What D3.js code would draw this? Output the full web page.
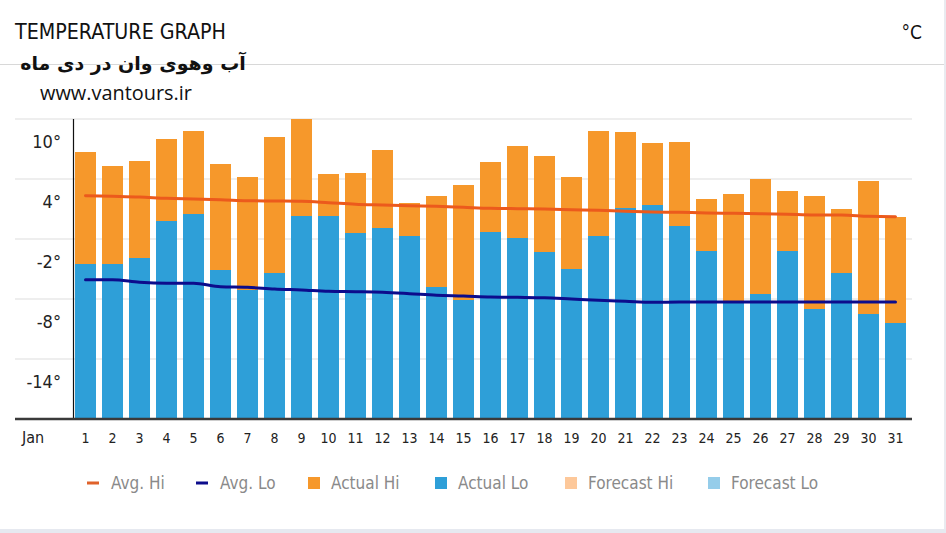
<!DOCTYPE html>
<html>
<head>
<meta charset="utf-8">
<script src="https://cdn.jsdelivr.net/npm/d3@7"></script>
<style>
  html, body { margin: 0; padding: 0; background: #fff; }
  svg { display: block; }
  .cond { font-family: 'DejaVu Sans', sans-serif; font-stretch: condensed; }
</style>
</head>
<body>
<svg id="chart" width="946" height="533"></svg>
<script>
// ---- data ----
const days = d3.range(1, 32).map(String);
const actualHi = [6.7, 5.3, 5.8, 8.0, 8.8, 5.5, 4.2, 8.2, 10.0, 4.5, 4.6, 6.9, 1.6, 2.3, 3.4, 5.7,
                  7.3, 6.3, 4.2, 8.8, 8.7, 7.6, 7.7, 2.0, 2.5, 4.0, 2.8, 2.3, 1.0, 3.8, 0.2];
const actualLo = [-4.5, -4.5, -3.9, -0.2, 0.5, -5.1, -7.1, -5.4, 0.3, 0.3, -1.4, -0.9, -1.7, -6.8, -8.1, -1.3,
                  -1.9, -3.3, -5.0, -1.7, 1.1, 1.4, -0.7, -3.2, -8.3, -7.5, -3.2, -9.0, -5.4, -9.5, -10.4];
const avgHi = [2.33, 2.27, 2.2, 2.07, 2.0, 1.93, 1.83, 1.8, 1.77, 1.63, 1.47, 1.4, 1.33, 1.27, 1.17, 1.07,
               1.03, 1.0, 0.93, 0.87, 0.77, 0.7, 0.67, 0.6, 0.57, 0.53, 0.47, 0.4, 0.4, 0.27, 0.23];
const avgLo = [-6.07, -6.07, -6.33, -6.43, -6.43, -6.77, -6.83, -7.0, -7.1, -7.23, -7.27, -7.33, -7.47, -7.63, -7.7, -7.8,
               -7.83, -7.87, -8.0, -8.13, -8.23, -8.33, -8.3, -8.3, -8.3, -8.3, -8.3, -8.3, -8.3, -8.3, -8.3];
const yTicks = [10, 4, -2, -8, -14];
const monthLabel = "Jan";
const legendLabels = ["Avg. Hi", "Avg. Lo", "Actual Hi", "Actual Lo", "Forecast Hi", "Forecast Lo"];
const titleText = "TEMPERATURE GRAPH";
const subtitleText = "آب وهوی وان در دی ماه";
const siteText = "www.vantours.ir";
const unitText = "°C";

// ---- styles ----
const C = {
  hi: "#f6982b", lo: "#2e9fd8", avgHi: "#ec5a1c", avgLo: "#0c0c8c",
  fHi: "#fdc89a", fLo: "#95cdea", grid: "#e8e8e8", text: "#222", legend: "#8a8a8a"
};

const svg = d3.select("#chart");

// frame
svg.append("rect").attr("x", 944).attr("y", 0).attr("width", 2).attr("height", 533).attr("fill", "#e9ebf0");
svg.append("rect").attr("x", 0).attr("y", 529).attr("width", 946).attr("height", 4).attr("fill", "#e6e9f0");
svg.append("line").attr("x1", 0).attr("x2", 944).attr("y1", 64.5).attr("y2", 64.5)
  .attr("stroke", "#d8d8d8").attr("stroke-width", 1.2);

// header
svg.append("text").attr("class", "cond").attr("x", 15).attr("y", 39).text(titleText)
  .attr("font-size", 22).attr("fill", "#111")
  .attr("textLength", 211).attr("lengthAdjust", "spacingAndGlyphs");
svg.append("text").attr("class", "cond").attr("x", 922).attr("y", 39).attr("text-anchor", "end").text(unitText)
  .attr("font-size", 19).attr("fill", "#111");
svg.append("text").attr("x", 133).attr("y", 70).attr("text-anchor", "middle").text(subtitleText)
  .attr("font-family", "'DejaVu Sans', sans-serif").attr("font-weight", "bold").attr("font-size", 19)
  .attr("fill", "#111").attr("direction", "rtl");
svg.append("text").attr("x", 40).attr("y", 100).text(siteText)
  .attr("font-family", "'Open Sans', 'Noto Sans', sans-serif").attr("font-size", 20).attr("fill", "#111")
  .attr("textLength", 152).attr("lengthAdjust", "spacingAndGlyphs");

// scales
const x = d3.scaleBand().domain(days).range([75, 906]).paddingInner(0.222).paddingOuter(0);
const y = d3.scaleLinear().domain([-20, 10]).range([419, 119]);

// grid
svg.append("g").selectAll("line").data(yTicks).join("line")
  .attr("x1", 15).attr("x2", 912).attr("y1", d => y(d)).attr("y2", d => y(d))
  .attr("stroke", C.grid).attr("stroke-width", 1.5);

// y labels
svg.append("g").selectAll("text").data(yTicks).join("text")
  .attr("class", "cond")
  .attr("x", 61).attr("y", d => y(d) + 29).attr("text-anchor", "end")
  .attr("font-size", 18).attr("fill", C.text)
  .text(d => d + "°");

// bars
const data = days.map((d, i) => ({ day: d, hi: actualHi[i], lo: actualLo[i] }));
svg.append("g").selectAll("rect").data(data).join("rect")
  .attr("x", d => x(d.day)).attr("width", x.bandwidth())
  .attr("y", d => y(d.hi)).attr("height", d => y(d.lo) - y(d.hi))
  .attr("fill", C.hi);
svg.append("g").selectAll("rect").data(data).join("rect")
  .attr("x", d => x(d.day)).attr("width", x.bandwidth())
  .attr("y", d => y(d.lo)).attr("height", d => y(-20) - y(d.lo))
  .attr("fill", C.lo);

// axis lines
svg.append("line").attr("x1", 73.5).attr("x2", 73.5).attr("y1", 119).attr("y2", 419)
  .attr("stroke", "#111").attr("stroke-width", 1.2);
svg.append("line").attr("x1", 15).attr("x2", 912).attr("y1", 419).attr("y2", 419)
  .attr("stroke", "#3a3a3a").attr("stroke-width", 2.5);

// average lines
const cx = d => x(d) + x.bandwidth() / 2;
const line = d3.line().x(d => cx(d[0])).y(d => y(d[1])).curve(d3.curveMonotoneX);
svg.append("path").attr("d", line(days.map((d, i) => [d, avgHi[i]])))
  .attr("fill", "none").attr("stroke", C.avgHi).attr("stroke-width", 3).attr("stroke-linecap", "round");
svg.append("path").attr("d", line(days.map((d, i) => [d, avgLo[i]])))
  .attr("fill", "none").attr("stroke", C.avgLo).attr("stroke-width", 3).attr("stroke-linecap", "round");

// x labels
svg.append("text").attr("class", "cond").attr("x", 22).attr("y", 443).text(monthLabel)
  .attr("font-size", 16).attr("fill", C.text);
svg.append("g").selectAll("text").data(days).join("text")
  .attr("class", "cond")
  .attr("x", d => cx(d)).attr("y", 443).attr("text-anchor", "middle")
  .attr("font-size", 14).attr("fill", C.text)
  .text(d => d);

// legend
const legendX = [87, 196, 308, 435, 565, 708];
const legendKind = ["line", "line", "sq", "sq", "sq", "sq"];
const legendColors = ["#e0622a", "#0c0c8c", C.hi, C.lo, C.fHi, C.fLo];
const lg = svg.append("g").selectAll("g").data(legendLabels).join("g")
  .attr("transform", (d, i) => `translate(${legendX[i]},483)`);
lg.append("rect")
  .attr("x", 0).attr("width", 12)
  .attr("y", (d, i) => legendKind[i] === "line" ? -1.5 : -6)
  .attr("height", (d, i) => legendKind[i] === "line" ? 3 : 12)
  .attr("fill", (d, i) => legendColors[i]);
lg.append("text").attr("class", "cond").attr("x", (d, i) => legendKind[i] === "line" ? 24 : 23).attr("y", 6)
  .attr("font-size", 17).attr("fill", C.legend)
  .text(d => d);
</script>
</body>
</html>
